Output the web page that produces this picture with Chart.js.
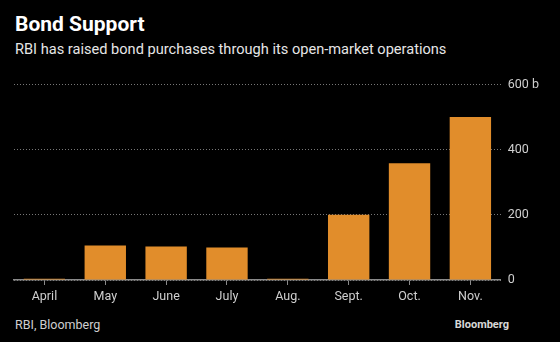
<!DOCTYPE html>
<html lang="en">
<head>
  <meta charset="UTF-8" />
  <title>Bond Support</title>
  <script src="https://cdn.jsdelivr.net/npm/chart.js"></script>
  <style>
    body {
      margin: 0;
      background: #000;
      font-family: Roboto, sans-serif;
      color: #fff;
    }
    .wrap {
      position: relative;
      width: 560px;
      height: 342px;
      overflow: hidden;
      background: #000;
    }
    .title {
      position: absolute;
      left: 15px;
      top: 12px;
      font-size: 21px;
      font-weight: 700;
      color: #fff;
    }
    .subtitle {
      position: absolute;
      left: 15px;
      top: 40px;
      font-size: 14.6px;
      color: #e6e6e6;
    }
    .source {
      position: absolute;
      left: 15px;
      top: 317px;
      font-size: 12.5px;
      color: #cfcfcf;
    }
    .logo {
      position: absolute;
      right: 51px;
      top: 318px;
      font-size: 11px;
      font-weight: 700;
      color: #d8d8d8;
    }
    .chart-box {
      position: absolute;
      left: 0;
      top: 70px;
      width: 560px;
      height: 238px;
    }
  </style>
</head>
<body>
  <div class="wrap">
    <div class="title">Bond Support</div>
    <div class="subtitle">RBI has raised bond purchases through its open-market operations</div>

    <div class="chart-box">
      <canvas id="bondChart"></canvas>
    </div>

    <div class="source">RBI, Bloomberg</div>
    <div class="logo">Bloomberg</div>
  </div>

  <script>
    // data (billion rupees)
    const months = ["April", "May", "June", "July", "Aug.", "Sept.", "Oct.", "Nov."];
    const purchases = [4, 106, 103, 100, 4, 200, 358, 500];
    const yTicks = [0, 200, 400, 600];

    const barColor = "#e18d2b";

    const ctx = document.getElementById("bondChart").getContext("2d");
    new Chart(ctx, {
      type: "bar",
      data: {
        labels: months,
        datasets: [{
          label: "Bond purchases",
          data: purchases,
          backgroundColor: barColor,
          barPercentage: 0.68,
          categoryPercentage: 1
        }]
      },
      options: {
        responsive: true,
        maintainAspectRatio: false,
        animation: false,
        layout: {
          padding: { left: 14, right: 14, top: 10, bottom: 0 }
        },
        plugins: {
          legend: { display: false },
          tooltip: { enabled: false }
        },
        scales: {
          x: {
            grid: {
              offset: false,
              drawOnChartArea: false,
              tickLength: 5,
              color: "#8a8a8a"
            },
            border: { color: "#8a8a8a", width: 1.5 },
            ticks: {
              color: "#cfcfcf",
              font: { family: "Roboto, sans-serif", size: 12.5 },
              padding: 4
            }
          },
          y: {
            position: "right",
            min: 0,
            max: 600,
            afterBuildTicks: axis => {
              axis.ticks = yTicks.map(v => ({ value: v }));
            },
            grid: {
              drawTicks: false,
              color: "#777",
              lineWidth: 1
            },
            border: { display: false, dash: [1, 2] },
            ticks: {
              color: "#cfcfcf",
              padding: 7,
              font: { family: "Roboto, sans-serif", size: 12.5 },
              callback: v => v === 600 ? "600 b" : v
            }
          }
        }
      }
    });
  </script>
</body>
</html>
